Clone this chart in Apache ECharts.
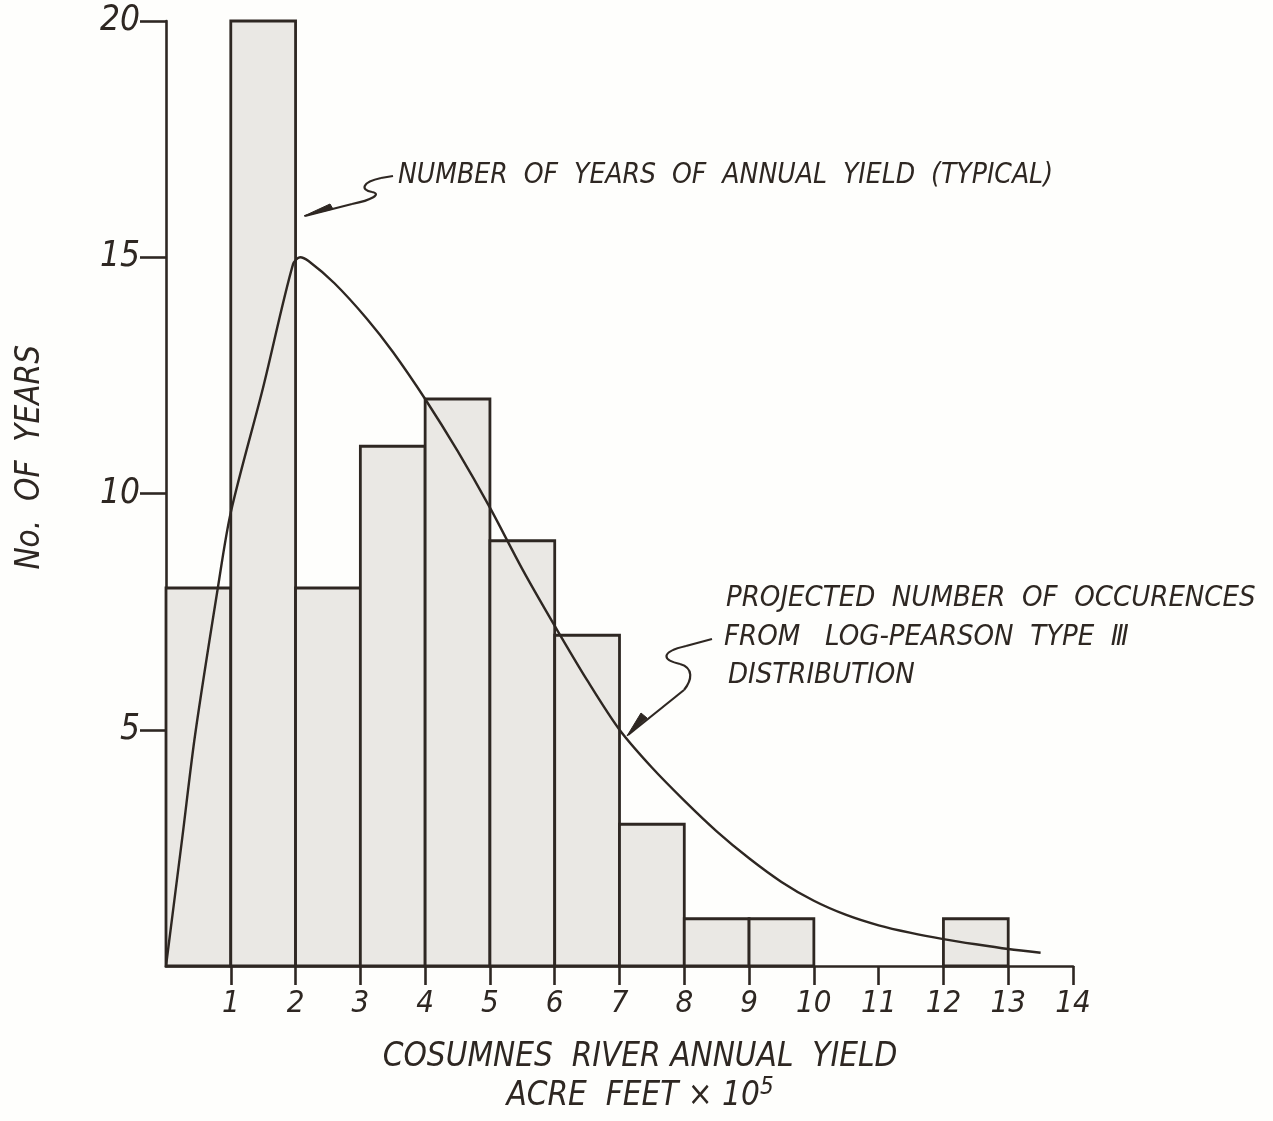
<!DOCTYPE html>
<html>
<head>
<meta charset="utf-8">
<script src="https://cdn.jsdelivr.net/npm/echarts@6/dist/echarts.min.js"></script>
<style>
  html, body { margin: 0; padding: 0; background: #fefefc; }
  #chart { width: 1273px; height: 1121px; }
</style>
</head>
<body>
<div id="chart"></div>
<script>
// Histogram bins (acre feet x 10^5) and number of years in each bin
const binStarts = [0, 1, 2, 3, 4, 5, 6, 7, 8, 9, 10, 11, 12];
const binEnds   = [1, 2, 3, 4, 5, 6, 7, 8, 9, 10, 11, 12, 13];
const yearCounts = [8, 20, 8, 11, 12, 9, 7, 3, 1, 1, 0, 0, 1];

// Projected occurrences from the Log-Pearson Type III distribution
const curveX = [0, 0.25, 0.45, 0.8, 1.0, 1.5, 1.96, 2.07, 2.2, 2.6, 3.1, 3.5, 4.0, 4.5, 5.0, 5.5, 6.0, 6.5, 7.0, 7.5, 8.0, 8.5, 9.0, 9.5, 10.0, 10.5, 11.0, 11.5, 12.0, 12.5, 13.0, 13.5];
const curveY = [0, 2.7, 4.9, 8.0, 9.6, 12.25, 14.85, 15.0, 14.92, 14.45, 13.7, 13.0, 12.0, 10.9, 9.7, 8.4, 7.2, 6.05, 5.0, 4.2, 3.5, 2.85, 2.28, 1.78, 1.38, 1.08, 0.86, 0.7, 0.57, 0.46, 0.36, 0.28];

const xTicks = [1, 2, 3, 4, 5, 6, 7, 8, 9, 10, 11, 12, 13, 14];
const yTicks = [5, 10, 15, 20];

const ink = '#2e2722';
const handFont = '"Liberation Sans Narrow", "DejaVu Sans Condensed", sans-serif';

const bins = binStarts.map((s, i) => [s, binEnds[i], yearCounts[i]]);
const curve = curveX.map((x, i) => [x, curveY[i]]);

const chart = echarts.init(document.getElementById('chart'), null, { renderer: 'canvas' });

const leaderStyle = { stroke: ink, lineWidth: 2.2, fill: null };
function seg(x1, y1, x2, y2) {
  return { type: 'line', z: 10, shape: { x1, y1, x2, y2 }, style: leaderStyle };
}
function curveSeg(x1, y1, cpx1, cpy1, cpx2, cpy2, x2, y2) {
  return { type: 'bezierCurve', z: 10, shape: { x1, y1, cpx1, cpy1, cpx2, cpy2, x2, y2 }, style: leaderStyle };
}

const option = {
  backgroundColor: '#fefefc',
  animation: false,
  grid: { left: 166, right: 200, top: 21, bottom: 155 },
  xAxis: {
    type: 'value', min: 0, max: 14, interval: 1,
    splitLine: { show: false },
    axisLine: { show: true, lineStyle: { color: ink, width: 2.6 } },
    axisTick: { show: true, length: 19, customValues: xTicks, lineStyle: { color: ink, width: 2.6 } },
    axisLabel: {
      customValues: xTicks, margin: 22,
      color: ink, fontFamily: handFont, fontStyle: 'italic', fontSize: 31
    }
  },
  yAxis: {
    type: 'value', min: 0, max: 20, interval: 5,
    splitLine: { show: false },
    axisLine: { show: true, lineStyle: { color: ink, width: 2.6 } },
    axisTick: { show: true, length: 26, customValues: yTicks, lineStyle: { color: ink, width: 2.6 } },
    axisLabel: {
      customValues: yTicks, margin: 26,
      color: ink, fontFamily: handFont, fontStyle: 'italic', fontSize: 35
    }
  },
  series: [
    {
      type: 'custom',
      data: bins,
      z: 2,
      renderItem: function (params, api) {
        const h = api.value(2);
        if (!h) return null;
        const topLeft = api.coord([api.value(0), h]);
        const botRight = api.coord([api.value(1), 0]);
        return {
          type: 'rect',
          shape: { x: topLeft[0], y: topLeft[1], width: botRight[0] - topLeft[0], height: botRight[1] - topLeft[1] },
          style: { fill: '#eae8e4', stroke: ink, lineWidth: 2.8 }
        };
      }
    },
    {
      type: 'line',
      data: curve,
      z: 3,
      smooth: 0.3,
      symbol: 'none',
      lineStyle: { color: ink, width: 2.4 }
    }
  ],
  graphic: [
    // axis titles
    {
      type: 'text', left: 14, top: 345, rotation: Math.PI / 2, z: 10,
      style: { text: 'No.  OF  YEARS', fill: ink, font: 'italic 33px ' + handFont }
    },
    {
      type: 'text', x: 640, y: 1057, z: 10,
      style: { text: 'COSUMNES  RIVER ANNUAL  YIELD', fill: ink, font: 'italic 33px ' + handFont, align: 'center', verticalAlign: 'middle' }
    },
    {
      type: 'text', x: 640, y: 1096, z: 10,
      style: {
        text: '{t|ACRE  FEET × 10}{s|5}',
        align: 'center', verticalAlign: 'middle',
        rich: {
          t: { fill: ink, font: 'italic 33px ' + handFont },
          s: { fill: ink, font: 'italic 24px ' + handFont, verticalAlign: 'top', padding: [0, 0, 16, 0] }
        }
      }
    },
    // annotation: observed yearly counts
    {
      type: 'text', x: 398, y: 176, z: 10,
      style: { text: 'NUMBER  OF  YEARS  OF  ANNUAL  YIELD  (TYPICAL)', fill: ink, font: 'italic 28px ' + handFont, verticalAlign: 'middle' }
    },
    seg(393, 176, 381, 178),
    curveSeg(381, 178, 362, 182, 360, 190, 372, 192),
    curveSeg(372, 192, 382, 194, 372, 200, 352, 204),
    seg(352, 204, 305, 216),
    {
      type: 'polygon', z: 10,
      shape: { points: [[304, 216], [330, 204], [333, 209]] },
      style: { fill: ink, stroke: ink, lineWidth: 1 }
    },
    // annotation: projected distribution
    {
      type: 'text', x: 726, y: 598, z: 10,
      style: { text: 'PROJECTED  NUMBER  OF  OCCURENCES', fill: ink, font: 'italic 29px ' + handFont, verticalAlign: 'middle' }
    },
    {
      type: 'text', x: 724, y: 637, z: 10,
      style: { text: 'FROM   LOG-PEARSON  TYPE  Ⅲ', fill: ink, font: 'italic 29px ' + handFont, verticalAlign: 'middle' }
    },
    {
      type: 'text', x: 728, y: 675, z: 10,
      style: { text: 'DISTRIBUTION', fill: ink, font: 'italic 29px ' + handFont, verticalAlign: 'middle' }
    },
    seg(712, 639, 686, 646),
    curveSeg(686, 646, 660, 652, 662, 660, 680, 664),
    curveSeg(680, 664, 694, 668, 692, 680, 684, 690),
    seg(684, 690, 628, 735),
    {
      type: 'polygon', z: 10,
      shape: { points: [[627, 736], [641, 713], [647, 718]] },
      style: { fill: ink, stroke: ink, lineWidth: 1 }
    }
  ]
};

chart.setOption(option);
</script>
</body>
</html>
